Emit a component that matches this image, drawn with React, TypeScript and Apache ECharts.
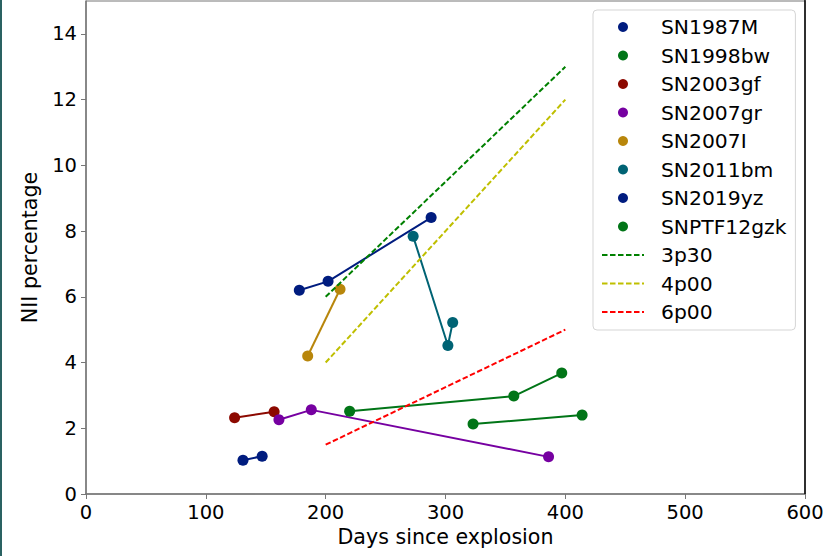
import React, { useEffect, useRef } from "react";
import * as echarts from "echarts";

const snNames = ["SN1987M", "SN1998bw", "SN2003gf", "SN2007gr", "SN2007I", "SN2011bm", "SN2019yz", "SNPTF12gzk"];
const snColors = ["#001c7f", "#017517", "#8c0900", "#7600a1", "#b8860b", "#006374", "#001c7f", "#017517"];
const snDays: number[][] = [
  [131, 147],
  [220, 357, 397],
  [124, 157],
  [161, 188, 386],
  [185, 212],
  [273, 302, 306],
  [178, 202, 288],
  [323, 414],
];
const snNII: number[][] = [
  [1.03, 1.15],
  [2.52, 2.98, 3.68],
  [2.32, 2.5],
  [2.26, 2.56, 1.13],
  [4.2, 6.23],
  [7.84, 4.52, 5.22],
  [6.2, 6.47, 8.41],
  [2.13, 2.4],
];

const modelNames = ["3p30", "4p00", "6p00"];
const modelColors = ["#008000", "#bfbf00", "#ff0000"];
const modelDays: number[][] = [
  [200, 400],
  [200, 400],
  [200, 400],
];
const modelNII: number[][] = [
  [6, 13],
  [4, 12],
  [1.5, 5],
];

const xTickInterval = 100;
const yTickInterval = 2;

export default function App() {
  const ref = useRef<HTMLDivElement>(null);
  useEffect(() => {
    if (!ref.current) return;
    const chart = echarts.init(ref.current, undefined, { renderer: "svg" });
    const font = "DejaVu Sans";
    const gridLeft = 86;
    const gridTop = 1;
    const gridWidth = 719;
    const gridHeight = 493;

    const series: any[] = [];
    snNames.forEach((n, i) => {
      series.push({
        name: n,
        type: "line",
        data: snDays[i].map((d, j) => [d, snNII[i][j]]),
        symbol: "circle",
        symbolSize: 11,
        showSymbol: true,
        color: snColors[i],
        itemStyle: { color: snColors[i] },
        lineStyle: { color: snColors[i], width: 2 },
        z: 3,
      });
    });
    modelNames.forEach((n, i) => {
      series.push({
        name: n,
        type: "line",
        data: modelDays[i].map((d, j) => [d, modelNII[i][j]]),
        symbol: "none",
        showSymbol: false,
        color: modelColors[i],
        lineStyle: { color: modelColors[i], width: 2, type: [5.5, 2.5] },
        z: 4,
      });
    });

    const legendData: any[] = [
      ...snNames.map((n) => ({ name: n, icon: "circle" })),
      ...modelNames.map((n) => ({ name: n, itemStyle: { opacity: 0 } })),
    ];

    chart.setOption({
      animation: false,
      textStyle: { fontFamily: font },
      grid: {
        left: gridLeft,
        top: gridTop,
        width: gridWidth,
        height: gridHeight,
        show: true,
        borderColor: "#777",
        borderWidth: 1,
        backgroundColor: "transparent",
      },
      xAxis: {
        type: "value",
        min: 0,
        max: 600,
        interval: xTickInterval,
        name: "Days since explosion",
        nameLocation: "middle",
        nameGap: 32,
        nameTextStyle: { fontSize: 20.6, color: "#000", fontFamily: font },
        axisLine: { show: true, lineStyle: { color: "#777", width: 1.5 } },
        axisTick: { show: true, inside: false, length: 5, lineStyle: { color: "#777" } },
        axisLabel: { fontSize: 19.5, color: "#000", margin: 8, fontFamily: font },
        splitLine: { show: false },
      },
      yAxis: {
        type: "value",
        min: 0,
        max: 15,
        interval: yTickInterval,
        name: "NII percentage",
        nameLocation: "middle",
        nameGap: 46,
        nameRotate: 90,
        nameTextStyle: { fontSize: 20.6, color: "#000", fontFamily: font },
        axisLine: { show: true, lineStyle: { color: "#777", width: 1.5 } },
        axisTick: { show: true, inside: false, length: 5, lineStyle: { color: "#777" } },
        axisLabel: { fontSize: 19.5, color: "#000", margin: 9, showMaxLabel: false, fontFamily: font },
        splitLine: { show: false },
      },
      legend: {
        orient: "vertical",
        left: 593,
        top: 10,
        data: legendData,
        itemWidth: 42,
        itemHeight: 10,
        itemGap: 8.5,
        padding: [7, 9, 8, 8],
        backgroundColor: "rgba(255,255,255,0.8)",
        borderColor: "#d5d5d5",
        borderWidth: 1,
        borderRadius: 4,
        selectedMode: false,
        textStyle: { fontSize: 20.3, color: "#000", fontFamily: font, lineHeight: 20, padding: [0, 0, 0, 12] },
      },
      graphic: [
        {
          type: "line",
          shape: { x1: gridLeft + gridWidth, y1: 0, x2: gridLeft + gridWidth, y2: gridTop + gridHeight },
          style: { stroke: "#000", lineWidth: 1.5 },
          z: 10,
        },
        {
          type: "rect",
          shape: { x: 0, y: 0, width: 2, height: 556 },
          style: { fill: "#2a6262" },
          z: 10,
        },
      ],
      series,
    });
    return () => chart.dispose();
  }, []);
  return (
    <div
      ref={ref}
      style={{ position: "fixed", left: 0, top: 0, width: 833, height: 556, background: "#fff" }}
    />
  );
}
